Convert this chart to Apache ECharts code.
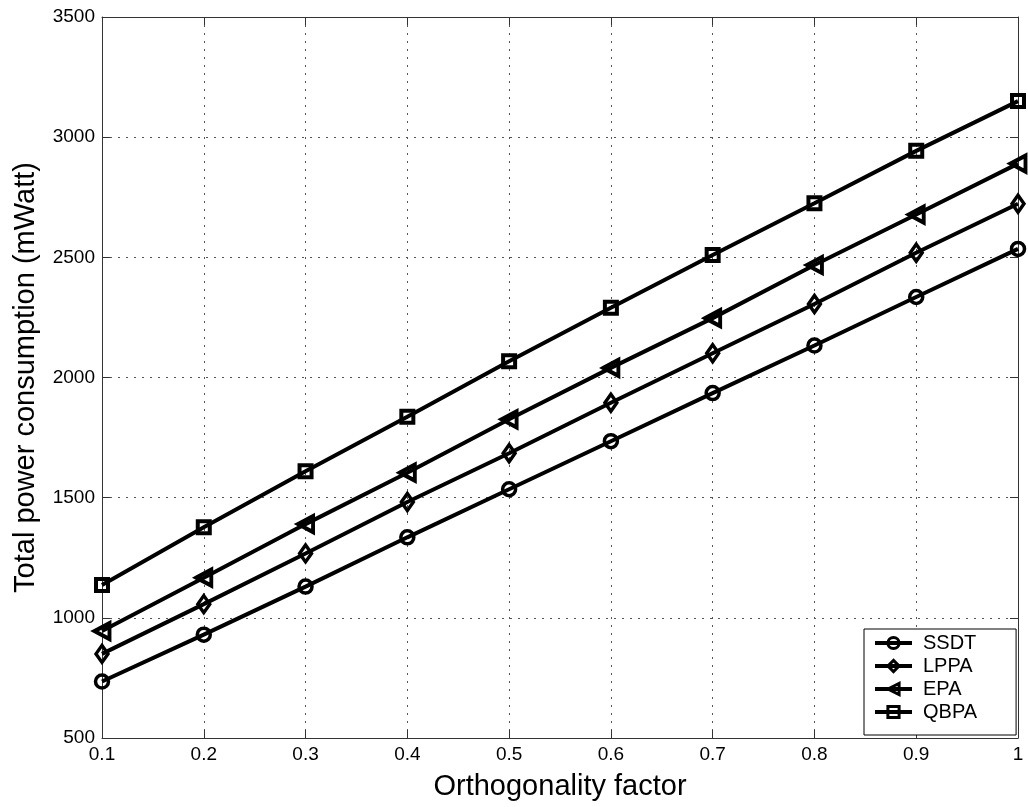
<!DOCTYPE html>
<html>
<head>
<meta charset="utf-8">
<script src="https://cdn.jsdelivr.net/npm/echarts@6/dist/echarts.min.js"></script>
<style>
html,body{margin:0;padding:0;background:#fff;}
#chart{width:1028px;height:807px;}
</style>
</head>
<body>
<div id="chart"></div>
<script>
const xValues = [0.1, 0.2, 0.3, 0.4, 0.5, 0.6, 0.7, 0.8, 0.9, 1.0];
const ssdt = [735, 930, 1130, 1335, 1535, 1735, 1935, 2133, 2335, 2535];
const lppa = [850, 1057, 1268, 1482, 1685, 1895, 2101, 2306, 2519, 2723];
const epa  = [945, 1167, 1390, 1604, 1826, 2040, 2247, 2468, 2678, 2890];
const qbpa = [1137, 1377, 1610, 1837, 2068, 2290, 2510, 2725, 2943, 3150];
const seriesNames = ['SSDT', 'LPPA', 'EPA', 'QBPA'];

const FONT = 'Liberation Sans, Arial, Helvetica, sans-serif';
const chart = echarts.init(document.getElementById('chart'), null, {renderer: 'canvas'});

function pairs(arr) { return xValues.map((x, i) => [x, arr[i]]); }

function mk(name, data, symbol, size, rotate, bw) {
  return {
    name: name,
    type: 'line',
    data: pairs(data),
    symbol: symbol,
    symbolSize: size,
    symbolRotate: rotate || 0,
    showAllSymbol: true,
    lineStyle: {color: '#000', width: 4},
    itemStyle: {color: 'rgba(255,255,255,0)', borderColor: '#000', borderWidth: bw},
    emphasis: {disabled: true},
    animation: false,
    z: 3
  };
}

const option = {
  backgroundColor: '#fff',
  animation: false,
  grid: {left: 102, right: 10, top: 17, bottom: 69, containLabel: false},
  legend: {
    data: seriesNames,
    orient: 'vertical',
    left: 864,
    top: 629,
    padding: [4, 39, 13, 9],
    itemGap: 3,
    itemWidth: 37,
    itemHeight: 14,
    backgroundColor: '#fff',
    borderColor: '#000',
    borderWidth: 1,
    borderRadius: 0,
    lineStyle: {width: 4, color: '#000'},
    itemStyle: {borderWidth: 3, borderColor: '#000'},
    textStyle: {fontFamily: FONT, fontSize: 20, lineHeight: 20, color: '#000', padding: [0, 0, 0, 6]}
  },
  xAxis: [{
    type: 'value',
    min: 0.1, max: 1, interval: 0.1,
    name: 'Orthogonality factor',
    nameLocation: 'middle',
    nameGap: 34,
    nameTextStyle: {fontFamily: FONT, fontSize: 29, color: '#000'},
    axisLine: {show: true, onZero: false, lineStyle: {color: '#333', width: 1}},
    axisTick: {show: true, inside: true, length: 8, lineStyle: {color: '#333'}},
    axisLabel: {fontFamily: FONT, fontSize: 19, color: '#000', margin: 7,
      formatter: v => String(Number(v.toFixed(1)))},
    splitLine: {show: true, lineStyle: {color: '#555', width: 1, type: [2, 6]}}
  }, {
    type: 'value', position: 'top',
    min: 0.1, max: 1, interval: 0.1,
    axisLine: {show: true, onZero: false, lineStyle: {color: '#333', width: 1}},
    axisTick: {show: true, inside: true, length: 8, lineStyle: {color: '#333'}},
    axisLabel: {show: false},
    splitLine: {show: false}
  }],
  yAxis: [{
    type: 'value',
    min: 500, max: 3500, interval: 500,
    name: 'Total power consumption (mWatt)',
    nameLocation: 'middle',
    nameGap: 62,
    nameTextStyle: {fontFamily: FONT, fontSize: 29, color: '#000'},
    axisLine: {show: true, onZero: false, lineStyle: {color: '#333', width: 1}},
    axisTick: {show: true, inside: true, length: 8, lineStyle: {color: '#333'}},
    axisLabel: {fontFamily: FONT, fontSize: 19, color: '#000', margin: 7,
      formatter: v => String(v)},
    splitLine: {show: true, lineStyle: {color: '#555', width: 1, type: [2, 6]}}
  }, {
    type: 'value', position: 'right',
    min: 500, max: 3500, interval: 500,
    axisLine: {show: true, onZero: false, lineStyle: {color: '#333', width: 1}},
    axisTick: {show: true, inside: true, length: 8, lineStyle: {color: '#333'}},
    axisLabel: {show: false},
    splitLine: {show: false}
  }],
  series: [
    mk('SSDT', ssdt, 'circle', 13, 0, 3.5),
    mk('LPPA', lppa, 'diamond', [12, 17], 0, 3.5),
    mk('EPA', epa, 'triangle', [16, 15], 90, 4),
    mk('QBPA', qbpa, 'rect', 12, 0, 4)
  ]
};
chart.setOption(option);
</script>
</body>
</html>
